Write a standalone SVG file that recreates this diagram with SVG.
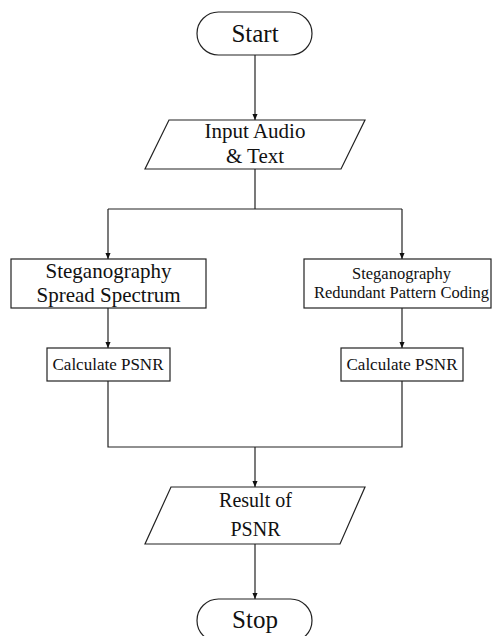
<svg xmlns="http://www.w3.org/2000/svg" width="492" height="636" viewBox="0 0 492 636">
<style>
.s{fill:#fff;stroke:#222;stroke-width:1.2}
.c{fill:none;stroke:#222;stroke-width:1.2}
.t{fill:#111;text-anchor:middle}
</style>
<defs>
<marker id="d" markerWidth="6" markerHeight="7" refX="7" refY="3" orient="auto" markerUnits="userSpaceOnUse" viewBox="0 0 7 6">
<path d="M0,0 L7,3 L0,6 Z" fill="#111"/>
</marker>
</defs>
<g id="connectors">
<path class="c" d="M255,55 V120" marker-end="url(#d)"/>
<path class="c" d="M255,169 V209 M108,209 H402"/>
<path class="c" d="M108,209 V259" marker-end="url(#d)"/>
<path class="c" d="M402,209 V259" marker-end="url(#d)"/>
<path class="c" d="M108,308 V348" marker-end="url(#d)"/>
<path class="c" d="M402,308 V348" marker-end="url(#d)"/>
<path class="c" d="M108,381 V447 H402 V381"/>
<path class="c" d="M255,447 V487" marker-end="url(#d)"/>
<path class="c" d="M255,544 V599" marker-end="url(#d)"/>
</g>
<g font-family="'Liberation Serif', Tinos, 'DejaVu Serif', serif">
<g id="start">
<rect class="s" x="197" y="12" width="115" height="43" rx="21.5"/>
<text class="t" x="255" y="42" font-size="25">Start</text>
</g>
<g id="input">
<polygon class="s" points="169,120 365,120 341,169 145,169"/>
<text class="t" x="255" y="138" font-size="21">Input Audio</text>
<text class="t" x="255" y="163" font-size="21">&amp; Text</text>
</g>
<g id="spread">
<rect class="s" x="11" y="259" width="195" height="49"/>
<text class="t" x="108.5" y="278" font-size="21">Steganography</text>
<text class="t" x="108.5" y="302" font-size="21">Spread Spectrum</text>
</g>
<g id="rpc">
<rect class="s" x="304" y="259" width="187" height="49"/>
<text class="t" x="401.5" y="279" font-size="16.5">Steganography</text>
<text class="t" x="401.5" y="298" font-size="16.5">Redundant Pattern Coding</text>
</g>
<g id="psnr1">
<rect class="s" x="47" y="348" width="123" height="33"/>
<text class="t" x="108" y="370" font-size="17">Calculate PSNR</text>
</g>
<g id="psnr2">
<rect class="s" x="341" y="348" width="122" height="33"/>
<text class="t" x="402" y="370" font-size="17">Calculate PSNR</text>
</g>
<g id="result">
<polygon class="s" points="171,487 365,487 340,544 145,544"/>
<text class="t" x="255.5" y="507" font-size="20">Result of</text>
<text class="t" x="255.5" y="536" font-size="20">PSNR</text>
</g>
<g id="stop">
<rect class="s" x="197" y="599" width="115" height="43" rx="21.5"/>
<text class="t" x="255" y="628" font-size="25">Stop</text>
</g>
</g>
</svg>
